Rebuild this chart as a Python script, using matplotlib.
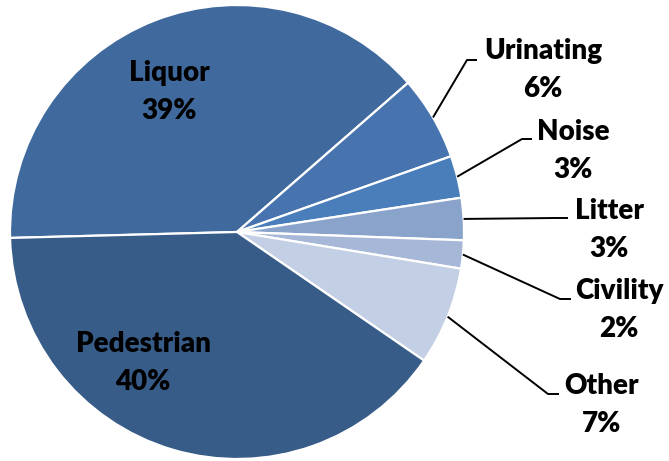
import numpy as np
import matplotlib
matplotlib.use("Agg")
import matplotlib.pyplot as plt

plt.rcParams['font.family'] = ['Lato', 'DejaVu Sans']

# Data
categories = ["Liquor", "Urinating", "Noise", "Litter", "Civility", "Other", "Pedestrian"]
shares = [39, 6, 3, 3, 2, 7, 40]
colors = ["#406A9E", "#4773AE", "#4A7EBB", "#8AA3CB", "#A6B7D7", "#C3CFE4", "#375C88"]

# layout in pixels of a 669x461 canvas
W, H = 669, 461
CX, CY, R = 237, 232, 227
FS = 20


def px(x, y):
    return (x - CX) / R, (CY - y) / R


# outside label block centres and leader elbows (pixels)
outside = {
    "Urinating": dict(text=(543, 70), elbow=(467, 60), end=(477, 60)),
    "Noise": dict(text=(573, 151), elbow=(522, 139), end=(532, 139)),
    "Litter": dict(text=(609, 230), elbow=(556, 218), end=(568, 218)),
    "Civility": dict(text=(619, 310), elbow=(560, 299), end=(571, 299)),
    "Other": dict(text=(602, 405), elbow=(548, 394), end=(559, 394)),
}
inside = {"Liquor": (169, 92), "Pedestrian": (143, 363)}

fig = plt.figure(figsize=(W / 100, H / 100), dpi=100)
ax = fig.add_axes([0, 0, 1, 1])
x0, y1 = px(0, 0)
x1, y0 = px(W, H)

wedges, _ = ax.pie(shares, colors=colors, startangle=181.5, counterclock=False,
                   radius=1, center=(0, 0), frame=True,
                   wedgeprops=dict(edgecolor='white', linewidth=1.6))
ax.set_xlim(x0, x1)
ax.set_ylim(y0, y1)
ax.set_aspect('equal')
ax.axis('off')

for w, name, val in zip(wedges, categories, shares):
    label = f"{name}\n{val}%"
    if name in inside:
        tx, ty = px(*inside[name])
        ax.text(tx, ty, label, ha='center', va='center', fontsize=FS,
                fontweight='heavy', color='black', linespacing=1.55)
        continue
    o = outside[name]
    mid = np.deg2rad((w.theta1 + w.theta2) / 2)
    sx, sy = np.cos(mid), np.sin(mid)
    ex, ey = px(*o["elbow"])
    fx, fy = px(*o["end"])
    ax.plot([sx, ex, fx], [sy, ey, fy], color='black', linewidth=1.4,
            solid_capstyle='butt')
    tx, ty = px(*o["text"])
    ax.text(tx, ty, label, ha='center', va='center', fontsize=FS,
            fontweight='heavy', color='black', linespacing=1.55)

fig.savefig("out.png", dpi=100, facecolor='white')
